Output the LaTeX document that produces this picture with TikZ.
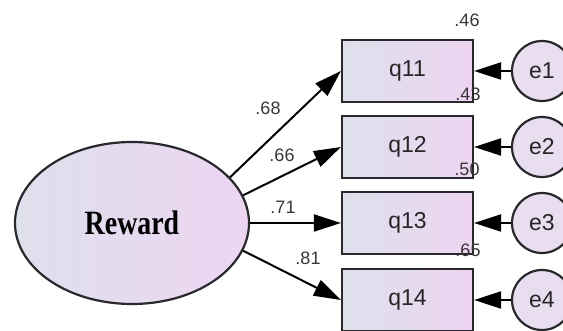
\documentclass[tikz,border=0pt]{standalone}
\usepackage{fontspec}
\setmainfont{Liberation Serif}
\newfontfamily\arialfont{Liberation Sans}
\usetikzlibrary{shapes.geometric,arrows.meta}
\definecolor{fillL}{RGB}{222,224,236}
\definecolor{fillR}{RGB}{237,213,242}
\definecolor{circfill}{RGB}{233,221,240}
\definecolor{edgec}{RGB}{40,40,45}
\definecolor{labc}{RGB}{55,55,55}
\tikzset{
  latent/.style={ellipse, draw=edgec, line width=2.2pt, minimum width=234pt, minimum height=162pt, inner sep=0pt, left color=fillL, right color=fillR},
  obsbox/.style={rectangle, draw=edgec, line width=2.2pt, minimum width=131pt, minimum height=62pt, inner sep=0pt, left color=fillL, right color=fillR, font=\arialfont\fontsize{23}{26}\selectfont, text=black!85},
  errc/.style={circle, draw=edgec, line width=2.2pt, minimum size=60pt, inner sep=0pt, fill=circfill, font=\arialfont\fontsize{23}{26}\selectfont, text=black!85},
  arr/.style={draw=black, line width=2pt, -{Triangle[length=27pt,width=17pt]}},
  lab/.style={font=\arialfont\fontsize{18}{20}\selectfont, text=labc, inner sep=0pt},
}
\begin{document}
\begin{tikzpicture}[x=1pt,y=-1pt]
\useasboundingbox (0,0) rectangle (563,331);
\node[latent] (R) at (132,223) {\scalebox{0.9}[1.1]{\bfseries\fontsize{31}{34}\selectfont Reward}};
\node[obsbox] (q11) at (407.5,71) {q11};
\node[obsbox] (q12) at (407.5,147) {q12};
\node[obsbox] (q13) at (407.5,223) {q13};
\node[obsbox] (q14) at (407.5,300) {q14};
\node[errc] (e1) at (542,71) {e1};
\node[errc] (e2) at (542,147) {e2};
\node[errc] (e3) at (542,223) {e3};
\node[errc] (e4) at (542,300) {e4};
\draw[arr] (R.25) -- (q11.west);
\draw[arr] (R.14) -- (q12.west);
\draw[arr] (R.0) -- (q13.west);
\draw[arr] (R.-14) -- (q14.west);
\draw[arr] (e1) -- (q11.east);
\draw[arr] (e2) -- (q12.east);
\draw[arr] (e3) -- (q13.east);
\draw[arr] (e4) -- (q14.east);
\node[lab] (l68) at (268,108) {.68};
\node[lab] (l66) at (282,155) {.66};
\node[lab] (l71) at (283,207) {.71};
\node[lab] (l81) at (308,258) {.81};
\node[lab] (r46) at (467,20) {.46};
\node[lab] (r43) at (468,94) {.43};
\node[lab] (r50) at (467,169) {.50};
\node[lab] (r65) at (468,250) {.65};
\end{tikzpicture}
\end{document}
